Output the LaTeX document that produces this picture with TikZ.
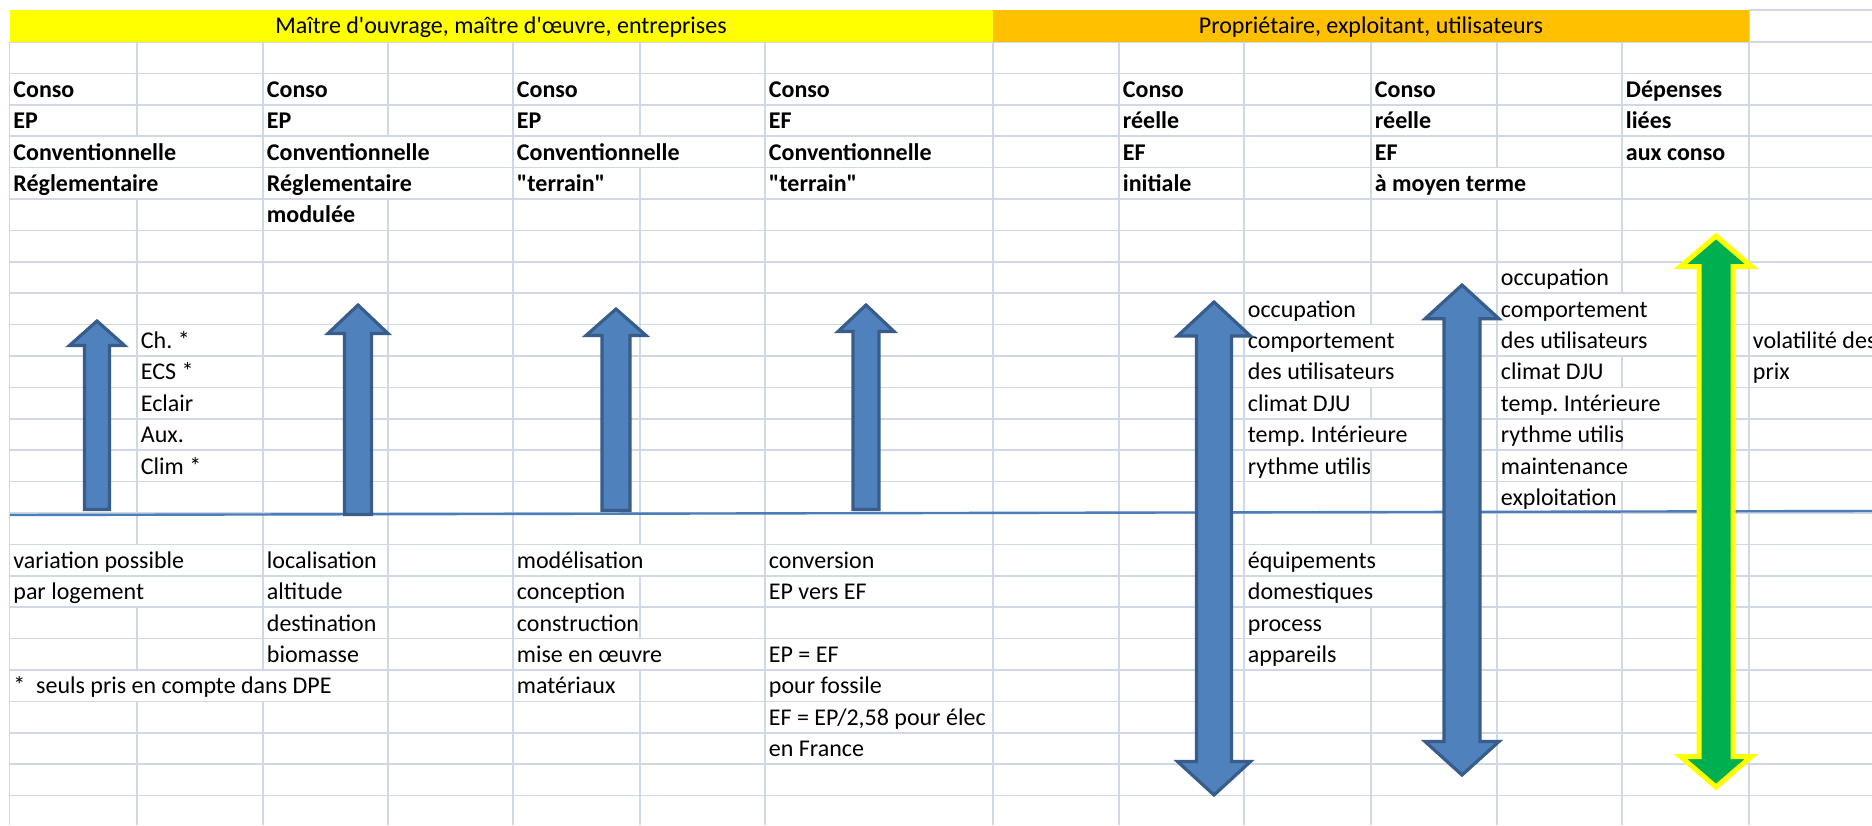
\documentclass[tikz,border=0pt]{standalone}
\usepackage{fontspec}
\setmainfont{Carlito}[Ligatures=TeXOff]
\definecolor{gridc}{HTML}{D0D7E5}
\definecolor{arrfill}{HTML}{4F81BD}
\definecolor{arrdraw}{HTML}{385D8A}
\definecolor{hlinec}{HTML}{4A7EBB}
\definecolor{bandy}{HTML}{FFFF00}
\definecolor{bando}{HTML}{FFC000}
\definecolor{grn}{HTML}{00B050}
\newcommand{\cellfont}{\fontsize{12}{14}\selectfont\frenchspacing}
% hidden vertical grid segments: line index - row
\def\hidecell#1#2{\expandafter\def\csname hid-#1-#2\endcsname{}}
\hidecell{1}{5}\hidecell{1}{6}\hidecell{1}{18}\hidecell{1}{19}\hidecell{1}{22}
\hidecell{2}{22}
\hidecell{3}{5}\hidecell{3}{6}
\hidecell{5}{5}\hidecell{5}{18}\hidecell{5}{21}
\hidecell{10}{11}\hidecell{10}{12}\hidecell{10}{14}\hidecell{10}{18}\hidecell{10}{19}
\hidecell{11}{6}
\hidecell{12}{10}\hidecell{12}{11}\hidecell{12}{13}\hidecell{12}{15}
% cell text: name, column left x, row, text
\newcommand{\celltext}[5][]{\node[cell,#1] (#2) at ({#3+3.5},{34.5+31.4*(#4-1)}) {#5};}
% block arrows
\newcommand{\blockup}[7]{\draw[#1] ({#2-#6},#7) -- ({#2-#6},#4) -- ({#2-#5},#4) -- (#2,#3) -- ({#2+#5},#4) -- ({#2+#6},#4) -- ({#2+#6},#7) -- cycle;}
\newcommand{\blockdbl}[8]{\draw[#1] (#2,#3) -- ({#2+#7},#4) -- ({#2+#8},#4) -- ({#2+#8},#5) -- ({#2+#7},#5) -- (#2,#6) -- ({#2-#7},#5) -- ({#2-#8},#5) -- ({#2-#8},#4) -- ({#2-#7},#4) -- cycle;}
\begin{document}
\frenchspacing
\begin{tikzpicture}[x=0.5pt,y=-0.5pt,
  gridline/.style={draw=gridc,line width=0.85pt},
  cell/.style={anchor=base west,inner sep=0pt,font=\cellfont},
  bcell/.style={cell,font=\cellfont\bfseries},
  head/.style={anchor=base,inner sep=0pt,font=\cellfont},
  bluearrow/.style={fill=arrfill,draw=arrdraw,line width=1.6pt,line join=miter},
  greenarrow/.style={fill=grn,draw=bandy,line width=2.5pt,line join=miter},
  sepline/.style={draw=hlinec,line width=1.2pt}]
\useasboundingbox (0,0) rectangle (1872,825);
\clip (0,0) rectangle (1872,825);
\fill[white] (0,0) rectangle (1872,825);
% horizontal grid lines
\foreach \k in {0,...,24} \draw[gridline] (9.5,{42+31.4*\k}) -- (1872,{42+31.4*\k});
\draw[gridline] (1749,10) -- (1872,10);
\draw[gridline] (1749,10) -- (1749,42);
% vertical grid lines
\foreach \i/\xx in {0/9.5,1/137,2/263,3/388,4/513,5/640,6/765,7/993,8/1119,9/1244,10/1371,11/1497,12/1622,13/1749} {
  \foreach \j in {2,...,26} {
    \ifcsname hid-\i-\j\endcsname\else
      \draw[gridline] (\xx,{42+31.4*(\j-2)}) -- (\xx,{min(825,42+31.4*(\j-1))});
    \fi
  }
}
% header bands
\fill[bandy] (9.5,10) rectangle (993,42);
\fill[bando] (993,10) rectangle (1749,42);
\node[head] (h1) at (501,33.5) {Maître d'ouvrage, maître d'œuvre, entreprises};
\node[head] (h2) at (1371,33.5) {Propriétaire, exploitant, utilisateurs};
% bold headings
\celltext[bcell]{a3}{9.5}{3}{Conso}
\celltext[bcell]{c3}{263}{3}{Conso}
\celltext[bcell]{e3}{513}{3}{Conso}
\celltext[bcell]{g3}{765}{3}{Conso}
\celltext[bcell]{i3}{1119}{3}{Conso}
\celltext[bcell]{k3}{1371}{3}{Conso}
\celltext[bcell]{m3}{1622}{3}{Dépenses}
\celltext[bcell]{a4}{9.5}{4}{EP}
\celltext[bcell]{c4}{263}{4}{EP}
\celltext[bcell]{e4}{513}{4}{EP}
\celltext[bcell]{g4}{765}{4}{EF}
\celltext[bcell]{i4}{1119}{4}{réelle}
\celltext[bcell]{k4}{1371}{4}{réelle}
\celltext[bcell]{m4}{1622}{4}{liées}
\celltext[bcell]{a5}{9.5}{5}{Conventionnelle}
\celltext[bcell]{c5}{263}{5}{Conventionnelle}
\celltext[bcell]{e5}{513}{5}{Conventionnelle}
\celltext[bcell]{g5}{765}{5}{Conventionnelle}
\celltext[bcell]{i5}{1119}{5}{EF}
\celltext[bcell]{k5}{1371}{5}{EF}
\celltext[bcell]{m5}{1622}{5}{aux conso}
\celltext[bcell]{a6}{9.5}{6}{Réglementaire}
\celltext[bcell]{c6}{263}{6}{Réglementaire}
\celltext[bcell]{e6}{513}{6}{"terrain"}
\celltext[bcell]{g6}{765}{6}{"terrain"}
\celltext[bcell]{i6}{1119}{6}{initiale}
\celltext[bcell]{k6}{1371}{6}{à moyen terme}
\celltext[bcell]{c7}{263}{7}{modulée}
% upper factors
\celltext{l9}{1497}{9}{occupation}
\celltext{j10}{1244}{10}{occupation}
\celltext{l10}{1497}{10}{comportement}
\celltext{b11}{137}{11}{Ch. *}
\celltext{j11}{1244}{11}{comportement}
\celltext{l11}{1497}{11}{des utilisateurs}
\celltext{n11}{1749}{11}{volatilité des}
\celltext{b12}{137}{12}{ECS *}
\celltext{j12}{1244}{12}{des utilisateurs}
\celltext{l12}{1497}{12}{climat DJU}
\celltext{n12}{1749}{12}{prix}
\celltext{b13}{137}{13}{Eclair}
\celltext{j13}{1244}{13}{climat DJU}
\celltext{l13}{1497}{13}{temp. Intérieure}
\celltext{b14}{137}{14}{Aux.}
\celltext{j14}{1244}{14}{temp. Intérieure}
\celltext{l14}{1497}{14}{rythme utilis}
\celltext{b15}{137}{15}{Clim *}
\celltext{j15}{1244}{15}{rythme utilis}
\celltext{l15}{1497}{15}{maintenance}
\celltext{l16}{1497}{16}{exploitation}
% lower factors
\celltext{a18}{9.5}{18}{variation possible}
\celltext{c18}{263}{18}{localisation}
\celltext{e18}{513}{18}{modélisation}
\celltext{g18}{765}{18}{conversion}
\celltext{j18}{1244}{18}{équipements}
\celltext{a19}{9.5}{19}{par logement}
\celltext{c19}{263}{19}{altitude}
\celltext{e19}{513}{19}{conception}
\celltext{g19}{765}{19}{EP vers EF}
\celltext{j19}{1244}{19}{domestiques}
\celltext{c20}{263}{20}{destination}
\celltext{e20}{513}{20}{construction}
\celltext{j20}{1244}{20}{process}
\celltext{c21}{263}{21}{biomasse}
\celltext{e21}{513}{21}{mise en œuvre}
\celltext{g21}{765}{21}{EP = EF}
\celltext{j21}{1244}{21}{appareils}
\celltext{a22}{9.5}{22}{*~ seuls pris en compte dans DPE}
\celltext{e22}{513}{22}{matériaux}
\celltext{g22}{765}{22}{pour fossile}
\celltext{g23}{765}{23}{EF = EP/2,58 pour élec}
\celltext{g24}{765}{24}{en France}
% separating line
\coordinate (sl) at (10,515);
\coordinate (sr) at (1872,511);
\draw[sepline] (sl) -- (sr);
% arrows: style, cx, tip, base, head half width, shaft half width, bottom
\blockup{bluearrow}{97}{321}{345.5}{27.5}{12.5}{509.5}
\blockup{bluearrow}{358}{305}{333.5}{30}{13.5}{514.5}
\blockup{bluearrow}{616}{309}{335.5}{30}{14}{510.5}
\blockup{bluearrow}{866}{305}{331.5}{28}{13}{509.5}
% double arrows: style, cx, top tip, top base, bottom base, bottom tip, head hw, shaft hw
\blockdbl{bluearrow}{1214}{302}{336}{761.5}{795}{36.5}{17.5}
\blockdbl{bluearrow}{1462}{285}{318.8}{741.5}{775}{37}{18}
\blockdbl{greenarrow}{1716}{236}{266.5}{756.5}{787}{35.5}{17}
\end{tikzpicture}
\end{document}
